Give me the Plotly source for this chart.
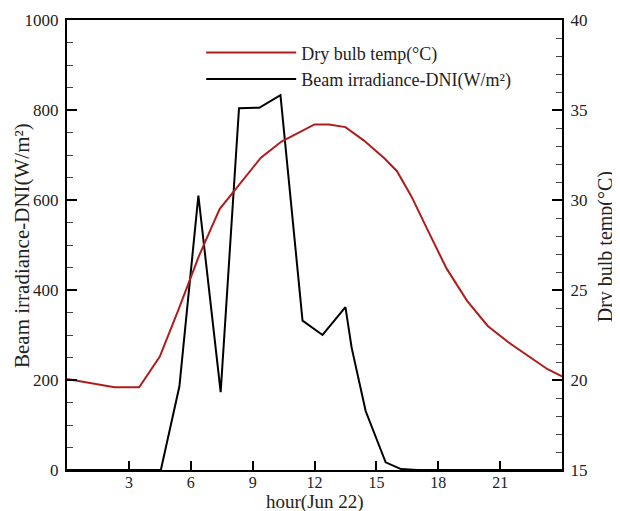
import plotly.graph_objects as go

# Dry bulb temperature (°C)
temp_hour = [0, 1, 2.3, 3.5, 4.5, 5.4, 6.4, 7.4, 8.4, 9.4, 10.4, 11.4, 12.0, 12.7,
             13.5, 14.4, 15.4, 16.0, 16.7, 17.5, 18.4, 19.4, 20.4, 21.4, 22.4, 23.3, 24]
temp_vals = [20.05, 19.85, 19.6, 19.6, 21.3, 23.9, 26.9, 29.5, 30.9, 32.35, 33.25, 33.85,
             34.2, 34.2, 34.05, 33.3, 32.3, 31.6, 30.2, 28.3, 26.2, 24.4, 23.0, 22.1,
             21.3, 20.6, 20.2]

# Beam irradiance DNI (W/m2)
dni_hour = [0, 1, 2, 3, 4, 4.55, 5.45, 6.37, 7.45, 8.34, 9.32, 10.35, 11.42, 12.39,
            13.5, 13.8, 14.48, 15.45, 16.2, 17, 18, 19, 20, 21, 22, 23, 24]
dni_vals = [0, 0, 0, 0, 0, 0, 186, 610, 173, 804, 805, 833, 332, 300,
            362, 272, 131, 17, 2, 0, 0, 0, 0, 0, 0, 0, 0]

x_ticks = [3, 6, 9, 12, 15, 18, 21]

x_title = "hour(Jun 22)"
y1_title = "Beam irradiance-DNI(W/m²)"
y2_title = "Dry bulb temp(°C)"

FONT = "Liberation Serif"
TXT = "#222"

fig = go.Figure()
fig.add_trace(go.Scatter(x=temp_hour, y=temp_vals, mode="lines", yaxis="y2",
                         name="Dry bulb temp(°C)",
                         line=dict(color="#b01c1c", width=2)))
fig.add_trace(go.Scatter(x=dni_hour, y=dni_vals, mode="lines", yaxis="y",
                         name="Beam irradiance-DNI(W/m²)",
                         line=dict(color="black", width=2)))

fig.update_layout(
    width=612, height=503,
    margin=dict(l=59, r=58, t=12, b=41),
    paper_bgcolor="white", plot_bgcolor="white",
    font=dict(family=FONT, color=TXT, size=17),
    showlegend=True,
    legend=dict(x=0.271, y=0.968, xanchor="left", yanchor="top",
                bgcolor="rgba(0,0,0,0)", itemwidth=90,
                font=dict(family=FONT, size=18, color=TXT),
                tracegroupgap=0),
    xaxis=dict(range=[0, 24], tickvals=x_ticks, ticks="inside", ticklen=9,
               tickwidth=2, tickcolor="black", showgrid=False, zeroline=False,
               showline=True, linewidth=2, linecolor="black", mirror=True,
               automargin=False, ticklabelstandoff=-3,
               tickfont=dict(size=16)),
    yaxis=dict(range=[0, 1000], tick0=0, dtick=200, ticks="inside", ticklen=10,
               tickwidth=2, tickcolor="black", showgrid=False, zeroline=False,
               showline=True, linewidth=2, linecolor="black",
               automargin=False,
               minor=dict(dtick=50, ticks="inside", ticklen=6, tickwidth=1,
                          tickcolor="#444"),
               ticklabelstandoff=3,
               tickfont=dict(size=17)),
    yaxis2=dict(range=[15, 40], tick0=15, dtick=5, ticks="inside", ticklen=10,
                tickwidth=2, tickcolor="black", showgrid=False, zeroline=False,
                overlaying="y", side="right",
                showline=True, linewidth=2, linecolor="black",
                automargin=False,
                minor=dict(dtick=1, ticks="inside", ticklen=6, tickwidth=1,
                           tickcolor="#444"),
                ticklabelstandoff=3,
                tickfont=dict(size=17)),
    annotations=[
        dict(text=x_title, xref="paper", yref="paper", x=0.5, y=-0.071,
             xanchor="center", yanchor="middle", showarrow=False,
             font=dict(family=FONT, size=19, color=TXT)),
        dict(text=y1_title, xref="paper", yref="paper", x=-0.091, y=0.5,
             xanchor="center", yanchor="middle", showarrow=False, textangle=-90,
             font=dict(family=FONT, size=21, color=TXT)),
        dict(text=y2_title, xref="paper", yref="paper", x=1.087, y=0.495,
             xanchor="center", yanchor="middle", showarrow=False, textangle=-90,
             font=dict(family=FONT, size=20, color=TXT)),
    ],
)

fig.write_html("out.html")
